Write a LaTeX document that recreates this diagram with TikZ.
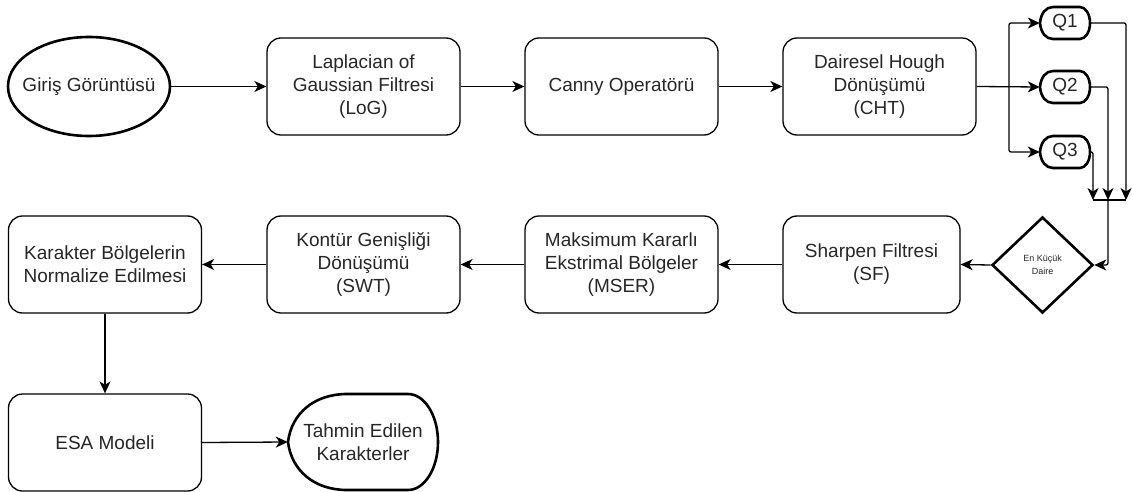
\documentclass[tikz,border=0pt]{standalone}
\usepackage{fontspec}
\setmainfont{Liberation Sans}
\usetikzlibrary{shapes.geometric,arrows.meta}
\definecolor{txt}{HTML}{262626}
\newcommand\dispoutline[5]{% L T R B dl ; right part width 20%
  \draw[thickline] (#1,{(#2+#4)/2}) .. controls ({#1+0.06*#5},{(#2+#4)/2-0.6*(#4-#2)/2}) and ({#1+0.45*#5},#2) .. ({#1+#5},#2)
   -- ({#3-0.2*(#3-#1)},#2) .. controls ({#3-0.2*(#3-#1)+0.5523*0.2*(#3-#1)},#2) and (#3,{(#2+#4)/2-0.5523*(#4-#2)/2}) .. (#3,{(#2+#4)/2})
   .. controls (#3,{(#2+#4)/2+0.5523*(#4-#2)/2}) and ({#3-0.2*(#3-#1)+0.5523*0.2*(#3-#1)},#4) .. ({#3-0.2*(#3-#1)},#4)
   -- ({#1+#5},#4) .. controls ({#1+0.45*#5},#4) and ({#1+0.06*#5},{(#2+#4)/2+0.6*(#4-#2)/2}) .. cycle;}
\begin{document}
\begin{tikzpicture}[x=1pt,y=-1pt,
  thickline/.style={line width=2.6pt},
  box/.style={draw, rounded corners=14pt, line width=1.3pt, minimum width=193pt, minimum height=97pt,
    align=center, font=\fontsize{19}{23}\selectfont, text=txt, inner sep=0pt},
  bigtext/.style={align=center, font=\fontsize{19}{23}\selectfont, text=txt, inner sep=0pt},
  ar/.style={-{Stealth[length=12pt,width=11pt,inset=3.5pt]}, line width=1.3pt, rounded corners=2pt},
  ln/.style={line width=1.3pt}]
\useasboundingbox (0,0) rectangle (1132,492);
% row 1
\node[draw, ellipse, thickline, minimum width=162pt, minimum height=99pt, inner sep=0pt] (start) at (89,86.5) {};
\node[bigtext] (starttext) at (start) {Giriş Görüntüsü};
\node[box] (log) at (363.5,86.5) {Laplacian of\\Gaussian Filtresi\\(LoG)};
\node[box] (canny) at (621.5,86.5) {Canny Operatörü};
\node[box] (cht) at (879.5,86.5) {Dairesel Hough\\Dönüşümü\\(CHT)};
% Q shapes
\dispoutline{1040}{7}{1090}{39}{13}
\dispoutline{1040}{71}{1090}{103}{13}
\dispoutline{1040}{136}{1090}{168}{13}
\node[bigtext, minimum width=50pt, minimum height=32pt] (q1) at (1065,23) {Q1};
\node[bigtext, minimum width=50pt, minimum height=32pt] (q2) at (1065,87) {Q2};
\node[bigtext, minimum width=50pt, minimum height=32pt] (q3) at (1065,152) {Q3};
% bar
\coordinate (b1) at (1093,200);
\coordinate (b2) at (1108,200);
\coordinate (b3) at (1126,200);
\coordinate (br) at (1009,87);
% diamond
\node[draw, diamond, thickline, minimum width=101pt, minimum height=96pt, inner sep=0pt, align=center,
  font=\fontsize{9}{13}\selectfont, text=txt] (dia) at (1042.5,265) {En Küçük\\Daire};
% row 2
\node[box, minimum width=177pt] (sf) at (871.5,264.5) {Sharpen Filtresi\\(SF)};
\node[box] (mser) at (621.5,264.5) {Maksimum Kararlı\\Ekstrimal Bölgeler\\(MSER)};
\node[box] (swt) at (363.5,264.5) {Kontür Genişliği\\Dönüşümü\\(SWT)};
\node[box] (kar) at (105,264.5) {Karakter Bölgelerin\\Normalize Edilmesi};
% row 3
\node[box] (esa) at (105,442.5) {ESA Modeli};
\dispoutline{288}{394}{438}{490}{59}
\node[bigtext, minimum width=150pt, minimum height=96pt] (tah) at (363,442) {Tahmin Edilen\\Karakterler};
% connectors
\draw[ar] (start) -- (log);
\draw[ar] (log) -- (canny);
\draw[ar] (canny) -- (cht);
\draw[ar] (cht.east) -- (q2.west);
\draw[ar] (br) |- (q1.west);
\draw[ar] (br) |- (q3.west);
\draw[ar] (q1.east) -| (b3);
\draw[ar] (q2.east) -| (b2);
\draw[ar] (q3.east) -| (b1);
\draw[ln] (b1) -- (b3);
\draw[ar] (b2) |- (dia.east);
\draw[ar] (dia.west) -- (sf.east);
\draw[ar] (sf) -- (mser);
\draw[ar] (mser) -- (swt);
\draw[ar] (swt) -- (kar);
\draw[ar] (kar) -- (esa);
\draw[ar] (esa.east) -- (tah.west);
\end{tikzpicture}
\end{document}
